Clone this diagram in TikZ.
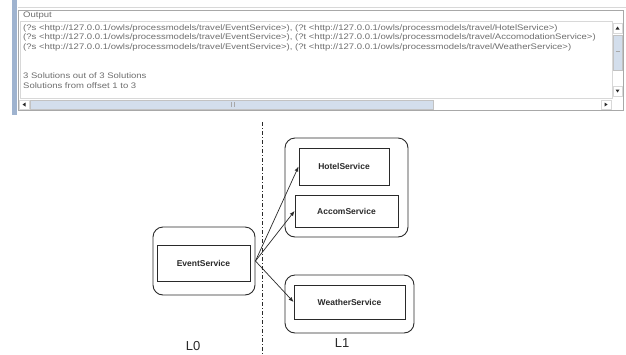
\documentclass[tikz,border=0pt]{standalone}
\usepackage{fontspec}
\setmainfont{Liberation Sans}
\usetikzlibrary{arrows.meta}
\definecolor{panelgray}{HTML}{A8A8A8}
\definecolor{lightgray}{HTML}{D8D8D8}
\definecolor{txtgray}{HTML}{6E6E6E}
\definecolor{stripblue}{HTML}{9FB3CF}
\definecolor{thumbblue}{HTML}{D3DEEC}
\definecolor{inkdark}{HTML}{2A2A2A}
\newcommand\wideline[1]{\scalebox{1.19}[1]{#1}}
\begin{document}
\begin{tikzpicture}[x=1pt,y=-1pt,
  outtext/.style={anchor=west, inner sep=0pt, text=txtgray, font=\fontsize{8}{9}\selectfont},
  svc/.style={draw=inkdark, line width=0.9pt, font=\bfseries\fontsize{8.5}{10}\selectfont, text=inkdark, inner sep=0pt},
  grp/.style={draw=inkdark, line width=0.9pt, rounded corners=10pt, inner sep=0pt},
  link/.style={-{Latex[length=5pt,width=4pt]}, line width=0.7pt, draw=inkdark},
  lvl/.style={font=\fontsize{13}{15}\selectfont, text=inkdark},
  sbtn/.style={draw=lightgray, fill=white, line width=0.5pt},
  sthumb/.style={draw=panelgray!70, fill=thumbblue, line width=0.5pt}]
\useasboundingbox (0,0) rectangle (626,354);
\fill[white] (0,0) rectangle (626,354);
% ---------- output panel ----------
\fill[stripblue] (12,0) rectangle (17,115);
\draw[lightgray, line width=1pt] (18,7) -- (626,7);
\draw[panelgray, line width=0.6pt] (18,10) rectangle (623,110);
\draw[lightgray, line width=0.5pt] (20,21) rectangle (612,98);
\node[outtext] (olabel) at (23,16) {\wideline{Output}};
\node[outtext] (r1) at (23,28) {\wideline{(?s <http://127.0.0.1/owls/processmodels/travel/EventService>), (?t <http://127.0.0.1/owls/processmodels/travel/HotelService>)}};
\node[outtext] (r2) at (23,37.5) {\wideline{(?s <http://127.0.0.1/owls/processmodels/travel/EventService>), (?t <http://127.0.0.1/owls/processmodels/travel/AccomodationService>)}};
\node[outtext] (r3) at (23,47) {\wideline{(?s <http://127.0.0.1/owls/processmodels/travel/EventService>), (?t <http://127.0.0.1/owls/processmodels/travel/WeatherService>)}};
\node[outtext] (s1) at (23,76) {\wideline{3 Solutions out of 3 Solutions}};
\node[outtext] (s2) at (23,85.5) {\wideline{Solutions from offset 1 to 3}};
% vertical scrollbar
\draw[sbtn] (613,23) rectangle (622,33);
\fill[inkdark] (615.5,29.5) -- (619.5,29.5) -- (617.5,26.5) -- cycle;
\draw[sthumb] (613,35) rectangle (622,70);
\draw[panelgray] (615.5,51) -- (619.5,51);
\draw[sbtn] (613,86) rectangle (622,96);
\fill[inkdark] (615.5,89.5) -- (619.5,89.5) -- (617.5,92.5) -- cycle;
% horizontal scrollbar
\draw[sbtn] (19,100) rectangle (29,109);
\fill[inkdark] (25.5,102.5) -- (25.5,106.5) -- (22.5,104.5) -- cycle;
\draw[sthumb] (30,100) rectangle (433,109);
\draw[panelgray] (231,102) -- (231,107) (234,102) -- (234,107);
\draw[sbtn] (601,100) rectangle (611,109);
\fill[inkdark] (604.5,102.5) -- (604.5,106.5) -- (607.5,104.5) -- cycle;
% ---------- diagram ----------
\coordinate (dtop) at (262,122);
\coordinate (dbot) at (262,354);
\draw[inkdark, line width=0.6pt, dash pattern=on 4pt off 2pt on 1pt off 2pt] (dtop) -- (dbot);
\node[grp, minimum width=102pt, minimum height=68pt] (evg) at (204,261) {};
\node[svc, minimum width=93pt, minimum height=36pt] (ev) at (203.5,263) {EventService};
\node[grp, minimum width=123pt, minimum height=99pt] (hag) at (346.5,187.5) {};
\node[svc, minimum width=90pt, minimum height=37pt] (hotel) at (344,166.5) {HotelService};
\node[svc, minimum width=103pt, minimum height=32pt] (accom) at (346.5,211) {AccomService};
\node[grp, minimum width=129pt, minimum height=58pt] (wg) at (349.5,304) {};
\node[svc, minimum width=111pt, minimum height=34pt] (weather) at (349.5,302) {WeatherService};
\draw[link] (evg.east) -- (hotel.west);
\draw[link] (evg.east) -- (accom.west);
\draw[link] (evg.east) -- (weather.west);
\node[lvl] (l0) at (193,346) {L0};
\node[lvl] (l1) at (342,343) {L1};
\end{tikzpicture}
\end{document}
